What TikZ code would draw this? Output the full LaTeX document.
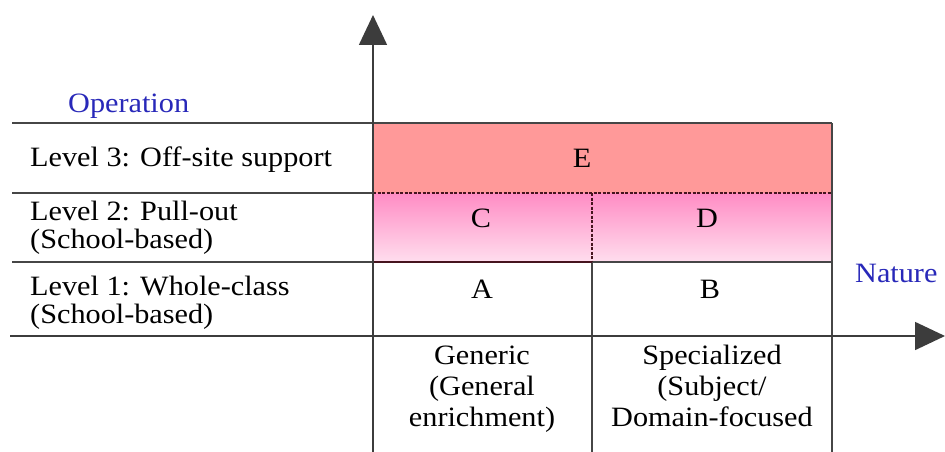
\documentclass[tikz,border=0pt]{standalone}
\usepackage{fontspec}
\setmainfont[FakeStretch=1.08]{Liberation Serif}
\usetikzlibrary{arrows.meta}
\definecolor{axisgray}{RGB}{60,60,60}
\definecolor{linegray}{RGB}{70,70,70}
\definecolor{labelblue}{RGB}{40,40,185}
\definecolor{salmon}{RGB}{255,153,153}
\definecolor{pinktop}{RGB}{255,140,196}
\definecolor{pinkbot}{RGB}{255,222,238}
\definecolor{darkred}{RGB}{70,20,30}
\tikzset{
  txt/.style={font=\fontsize{28}{28}\selectfont, inner sep=0pt, text=black},
  bluetxt/.style={txt, text=labelblue},
  axisline/.style={draw=axisgray, line width=1.6pt, -{Triangle[width=28pt,length=30pt]}},
  gridline/.style={draw=linegray, line width=1.3pt},
  thickline/.style={draw=darkred, line width=2.4pt},
  dashline/.style={draw=darkred, line width=1.2pt, dash pattern=on 3pt off 1.5pt},
}
\begin{document}
\begin{tikzpicture}[x=1pt,y=-1pt]
\useasboundingbox[fill=white] (0,0) rectangle (945,452);
% cells
\fill[salmon] (373,123) rectangle (832,193);
\shade[top color=pinktop, bottom color=pinkbot] (373,193) rectangle (832,262);
% coordinates
\coordinate (yb) at (373,452);
\coordinate (yt) at (373,15);
\coordinate (xl) at (10,336);
\coordinate (xr) at (945,336);
\coordinate (l3a) at (12,123); \coordinate (l3b) at (832,123);
\coordinate (l2a) at (12,193); \coordinate (l2b) at (373,193);
\coordinate (l1a) at (12,262); \coordinate (l1b) at (373,262);
\coordinate (eb1) at (373,193); \coordinate (eb2) at (832,193);
\coordinate (mid1) at (592,193); \coordinate (mid2) at (592,262); \coordinate (mid3) at (592,452);
\coordinate (cb2) at (832,262);
\coordinate (ax1) at (373,336); \coordinate (ax2) at (592,336);
\coordinate (re1) at (832,123); \coordinate (re2) at (832,452);
% grid lines
\draw[gridline] (l3a) -- (l3b);
\draw[gridline] (l2a) -- (l2b);
\draw[gridline] (l1a) -- (l1b);
\draw[gridline] (mid2) -- (cb2);
\draw[gridline] (mid2) -- (mid3);
\draw[gridline] (re1) -- (re2);
\draw[dashline] (eb1) -- (eb2);
\draw[dashline] (mid1) -- (mid2);
\draw[thickline] (l1b) -- (mid2);
\draw[thickline] (ax1) -- (ax2);
% axes
\draw[axisline] (yb) -- (yt);
\draw[axisline] (xl) -- (xr);
% labels
\node[bluetxt, anchor=base west] (op) at (68,112) {Operation};
\node[bluetxt, anchor=base west] (nat) at (855,282) {Nature};
\node[txt, anchor=base west] (lv3) at (30,166) {Level 3: Off-site support};
\node[txt, anchor=base west, align=left] (lv2) at (30,248) {Level 2: Pull-out\\(School-based)};
\node[txt, anchor=base west, align=left] (lv1) at (30,323) {Level 1: Whole-class\\(School-based)};
\node[txt, anchor=base] (E) at (582,167) {E};
\node[txt, anchor=base] (C) at (481,227) {C};
\node[txt, anchor=base] (D) at (707,227) {D};
\node[txt, anchor=base] (A) at (482,298) {A};
\node[txt, anchor=base] (B) at (710,298) {B};
\node[txt, anchor=base, align=center, font=\fontsize{28}{31}\selectfont] (gen) at (482,426) {Generic\\(General\\enrichment)};
\node[txt, anchor=base, align=center, font=\fontsize{28}{31}\selectfont] (spec) at (712,426) {Specialized\\(Subject/\\Domain-focused};
\end{tikzpicture}
\end{document}
